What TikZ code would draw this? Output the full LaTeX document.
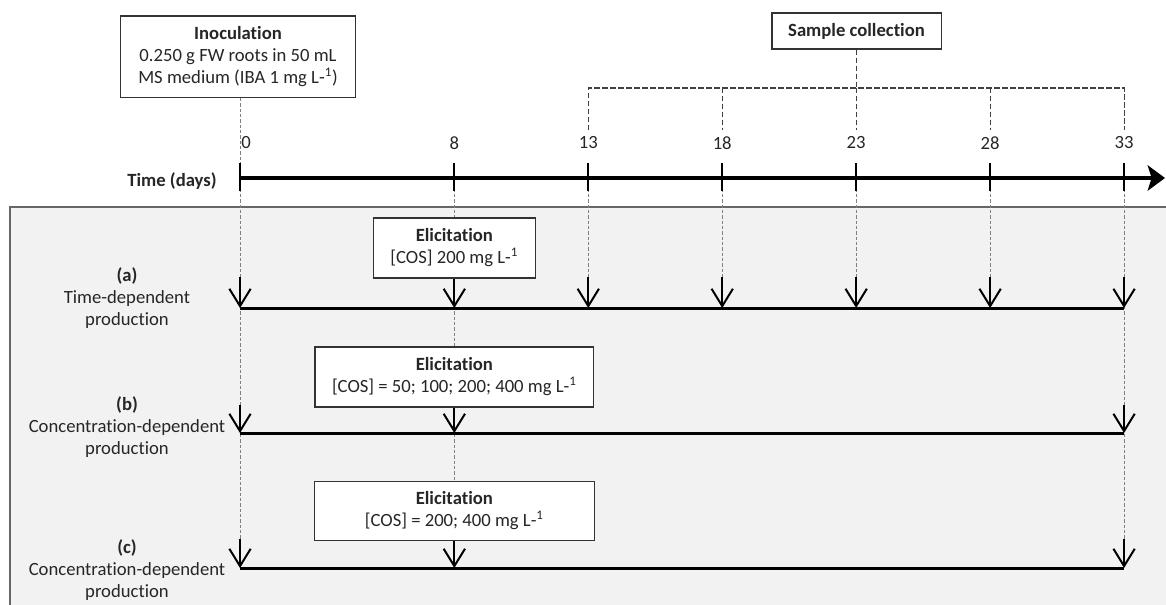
\documentclass[tikz,border=0pt]{standalone}
\usepackage{fontspec}
\setmainfont{Carlito}[Ligatures=NoCommon]
\usetikzlibrary{arrows.meta}

\tikzset{
  txt/.style={font=\fontsize{14}{16.5}\selectfont, text=black!85, align=center, inner sep=0pt},
  box/.style={txt, draw=black!80, fill=white, line width=1pt},
  panel/.style={fill=black!5, draw=black!60, line width=1pt},
  guide/.style={black!50, line width=0.75pt, dash pattern=on 2.5pt off 1.5pt},
  bracket/.style={black!75, line width=0.8pt, dash pattern=on 4pt off 2pt},
  axis/.style={line width=3pt, -{Stealth[length=13pt,width=19pt,inset=3pt]}},
  tick/.style={line width=1.5pt},
  rowline/.style={line width=2.25pt},
  drop/.style={line width=1.5pt, -{Straight Barb[length=13pt,width=16pt]}}
}

\begin{document}
\begin{tikzpicture}[x=0.75pt,y=-0.75pt]
  \useasboundingbox (0,0) rectangle (1166,604);
  \clip (0,0) rectangle (1166,604);

  %% grey panel
  \draw[panel] (10,207) rectangle (1190,630);

  %% days on the time axis
  \foreach \d in {0,8,13,18,23,28,33}
    \coordinate (t\d) at (240+26.79*\d,178);
  \coordinate (tend) at (1165,178);
  %% the three rows
  \coordinate (ra) at (240,308);
  \coordinate (rb) at (240,433);
  \coordinate (rc) at (240,568);

  \node[box, minimum width=176pt, minimum height=61pt] (inoc) at (238,56.5)
    {\textbf{Inoculation}\\0.250 g FW roots in 50 mL\\MS medium (IBA 1 mg L-\textsuperscript{1})};
  \node[box, minimum width=127pt, minimum height=27pt] (sample) at (856.5,31)
    {\textbf{Sample collection}};

  %% guides
  \draw[guide] (t0 |- inoc.south) -- (t0 |- 0,539);
  \draw[guide] (t8) -- (t8 |- 0,482);
  \foreach \d in {13,18,23,28}
    \draw[guide] (t\d) -- (t\d |- 0,277);
  \draw[guide] (t33) -- (t33 |- 0,539);

  %% sampling bracket
  \draw[bracket] (sample.south) -- (sample.south |- 0,88);
  \draw[bracket] (t13 |- 0,130) -- (t13 |- 0,88) -- (t33 |- 0,88) -- (t33 |- 0,130);
  \foreach \d in {18,23,28}
    \draw[bracket] (t\d |- 0,88) -- (t\d |- 0,130);

  %% time axis
  \draw[axis] (t0) -- (tend);
  \foreach \d in {0,8,13,18,23,28,33}
    \draw[tick] (t\d |- 0,163) -- (t\d |- 0,191);
  \node[txt] (l0) at (246,143) {0};
  \foreach \d in {8,13,18,23,28,33}
    \node[txt] (l\d) at (t\d |- 0,143) {\d};
  \node[txt] (timelbl) at (172,181) {\textbf{Time (days)}};

  %% elicitation
  \node[box, minimum width=121.5pt, minimum height=45pt] (elica) at (t8 |- 0,248)
    {\textbf{Elicitation}\\{[COS]} 200 mg L-\textsuperscript{1}};
  \node[box, minimum width=209pt, minimum height=45pt] (elicb) at (t8 |- 0,377)
    {\textbf{Elicitation}\\{[COS]} = 50; 100; 200; 400 mg L-\textsuperscript{1}};
  \node[box, minimum width=210pt, minimum height=44pt] (elicc) at (t8 |- 0,511)
    {\textbf{Elicitation}\\{[COS]} = 200; 400 mg L-\textsuperscript{1}};

  %% rows
  \draw[rowline] (ra) -- (t33 |- ra);
  \draw[rowline] (rb) -- (t33 |- rb);
  \draw[rowline] (rc) -- (t33 |- rc);

  \foreach \d in {0,13,18,23,28,33}
    \draw[drop] (t\d |- 0,277) -- (t\d |- ra);
  \draw[drop] (elica) -- (t8 |- ra);
  \draw[drop] (t0 |- 0,405) -- (t0 |- rb);
  \draw[drop] (elicb) -- (t8 |- rb);
  \draw[drop] (t33 |- 0,405) -- (t33 |- rb);
  \draw[drop] (t0 |- 0,539) -- (t0 |- rc);
  \draw[drop] (elicc) -- (t8 |- rc);
  \draw[drop] (t33 |- 0,539) -- (t33 |- rc);

  \node[txt] (laba) at (127,298) {\textbf{(a)}\\Time-dependent\\production};
  \node[txt] (labb) at (127,427) {\textbf{(b)}\\Concentration-dependent\\production};
  \node[txt] (labc) at (127,570) {\textbf{(c)}\\Concentration-dependent\\production};
\end{tikzpicture}
\end{document}
